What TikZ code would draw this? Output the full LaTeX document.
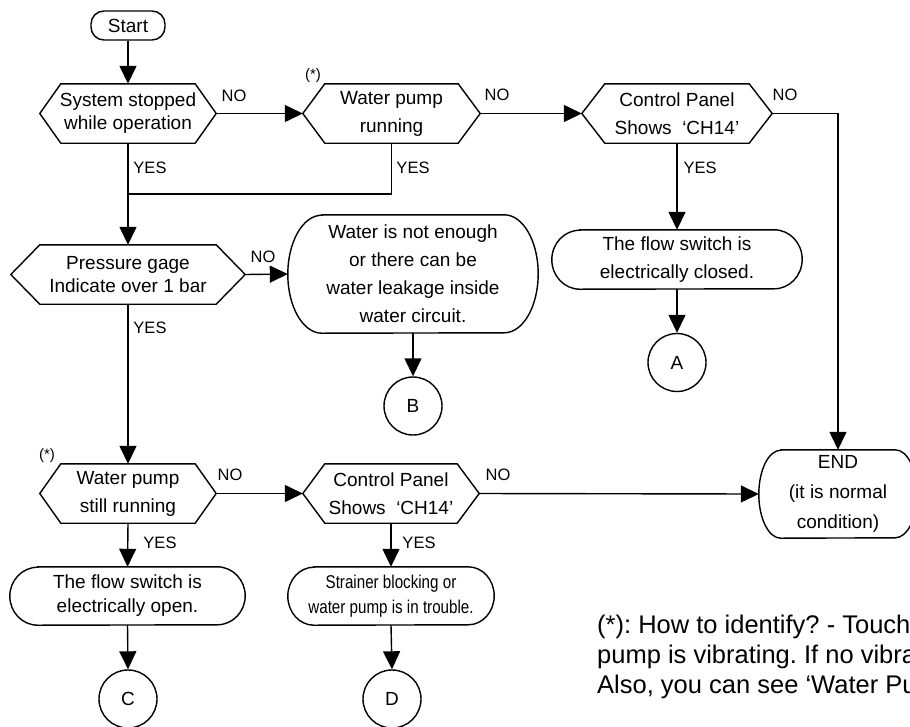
\documentclass[tikz,border=0pt]{standalone}
\usepackage{fontspec}
\setmainfont{Liberation Sans}
\newfontfamily\narrowfont[FakeStretch=0.82]{Liberation Sans}
\usetikzlibrary{arrows.meta,calc}
\frenchspacing

\tikzset{
  flow/.style={line width=1.4pt, draw=black},
  arr/.style={flow, -{Triangle[length=18pt,width=17pt]}},
  box/.style={rectangle, inner sep=0pt, align=center},
  tag/.style={inner sep=0pt, font=\fontsize{16.5}{18}\selectfont},
  star/.style={inner sep=0pt, font=\fontsize{15}{16}\selectfont},
  conn/.style={circle, draw, line width=1.4pt, minimum size=58pt, inner sep=0pt,
               font=\fontsize{19}{24}\selectfont},
  note/.style={anchor=base west, inner sep=0pt, font=\fontsize{25.5}{30}\selectfont},
}

% hexagonal decision outline around a node: node name, slant of the ends
\newcommand\hexoutline[2]{%
  \draw[flow, line join=miter] (#1.west) -- ([xshift=#2]#1.north west)
    -- ([xshift=-#2]#1.north east) -- (#1.east)
    -- ([xshift=-#2]#1.south east) -- ([xshift=#2]#1.south west) -- cycle;}
% terminal outline with elliptic ends: node name, x radius, y radius
\newcommand\ovaloutline[3]{%
  \draw[flow] ([xshift=#2]#1.north west) -- ([xshift=-#2]#1.north east)
    arc[start angle=90, end angle=-90, x radius=#2, y radius=#3]
    -- ([xshift=#2]#1.south west)
    arc[start angle=270, end angle=90, x radius=#2, y radius=#3] -- cycle;}

\begin{document}
\begin{tikzpicture}[x=1pt, y=1pt]
\useasboundingbox (0,0) rectangle (910,-726);
\clip (0,0) rectangle (910,-726);

% start
\node[box, flow, draw, rounded corners=13pt, minimum width=74pt, minimum height=29pt,
      font=\fontsize{19}{24}\selectfont] (start) at (128,-25.5) {Start};

% decisions
\node[box, minimum width=176pt, minimum height=59pt, font=\fontsize{19}{23}\selectfont]
  (d1) at (128,-113.5) {System stopped\\while operation};
\hexoutline{d1}{21pt}
\node[box, minimum width=177pt, minimum height=59pt, font=\fontsize{19}{28}\selectfont]
  (d2) at (391.5,-113.5) {Water pump\\running};
\hexoutline{d2}{22pt}
\node[box, minimum width=190pt, minimum height=59pt, font=\fontsize{19}{28}\selectfont]
  (d3) at (677,-113.5) {Control Panel\\Shows~ ‘CH14’};
\hexoutline{d3}{23pt}
\node[box, minimum width=234pt, minimum height=59pt, font=\fontsize{19}{23}\selectfont]
  (d4) at (128,-274.5) {Pressure gage\\Indicate over 1 bar};
\hexoutline{d4}{29pt}
\node[box, minimum width=176pt, minimum height=59pt, font=\fontsize{19}{28}\selectfont]
  (d5) at (128,-493.5) {Water pump\\still running};
\hexoutline{d5}{21pt}
\node[box, minimum width=176pt, minimum height=59pt, font=\fontsize{19}{28}\selectfont]
  (d6) at (391,-493.5) {Control Panel\\Shows~ ‘CH14’};
\hexoutline{d6}{22pt}

% terminals
\node[box, minimum width=250pt, minimum height=59pt, font=\fontsize{19}{28}\selectfont]
  (t1) at (677,-259.5) {The flow switch is\\electrically closed.};
\ovaloutline{t1}{28pt}{29.5pt}
\node[box, minimum width=250pt, minimum height=118pt, font=\fontsize{19}{28}\selectfont]
  (t2) at (413,-274) {Water is not enough\\or there can be\\water leakage inside\\water circuit.};
\ovaloutline{t2}{34pt}{59pt}
\node[box, minimum width=158pt, minimum height=88pt, font=\fontsize{19}{30}\selectfont]
  (end) at (838,-494) {END\\(it is normal\\condition)};
\ovaloutline{end}{22pt}{44pt}
\node[box, minimum width=235pt, minimum height=58pt, font=\fontsize{19}{24}\selectfont]
  (t4) at (127.5,-596) {The flow switch is\\electrically open.};
\ovaloutline{t4}{28pt}{29pt}
\node[box, minimum width=206pt, minimum height=58pt, font=\narrowfont\fontsize{18.5}{25}\selectfont]
  (t5) at (391,-596) {Strainer blocking or\\water pump is in trouble.};
\ovaloutline{t5}{26pt}{29pt}

% connectors to other pages
\node[conn] (ca) at (677,-362.5) {A};
\node[conn] (cb) at (413,-406) {B};
\node[conn] (cc) at (128,-699) {C};
\node[conn] (cd) at (392,-699) {D};

% flow lines
\coordinate (join) at (128,-194);
\draw[arr] (start) -- (d1.north);
\draw[arr] (d1.east) -- (d2.west);
\draw[arr] (d2.east) -- (d3.west);
\draw[arr] (d3.east) -| (end.north);
\draw[arr] (d1.south) -- (d4.north);
\draw[flow] (d2.south) |- (join);
\draw[arr] (d3.south) -- (t1.north);
\draw[arr] (t1.south) -- (ca.north);
\draw[arr] (d4.east) -- (t2.west);
\draw[arr] (t2.south) -- (cb.north);
\draw[arr] (d4.south) -- (d5.north);
\draw[arr] (d5.east) -- (d6.west);
\draw[arr] (d6.east) -- (end.west);
\draw[arr] (d5.south) -- (t4.north);
\draw[arr] (d6.south) -- (t5.north);
\draw[arr] (t4.south) -- (cc.north);
\draw[arr] (t5.south) -- (cd.north);

% branch labels
\node[tag] (no1) at (234,-96) {NO};
\node[tag] (no2) at (497,-95) {NO};
\node[tag] (no3) at (785,-95) {NO};
\node[tag] (no4) at (263,-257) {NO};
\node[tag] (no5) at (230,-475) {NO};
\node[tag] (no6) at (498,-475) {NO};
\node[tag] (yes1) at (150,-168) {YES};
\node[tag] (yes2) at (413,-168) {YES};
\node[tag] (yes3) at (700,-168) {YES};
\node[tag] (yes4) at (150,-328) {YES};
\node[tag] (yes5) at (160,-543) {YES};
\node[tag] (yes6) at (419,-543) {YES};
\node[star] (s1) at (313,-76) {(*)};
\node[star] (s2) at (47,-456) {(*)};

% footnote
\node[note] (n1) at (597,-633) {(*): How to identify? - Touch};
\node[note] (n2) at (597,-663) {pump is vibrating. If no vibra};
\node[note] (n3) at (597,-693) {Also, you can see ‘Water Pu};
\end{tikzpicture}
\end{document}
